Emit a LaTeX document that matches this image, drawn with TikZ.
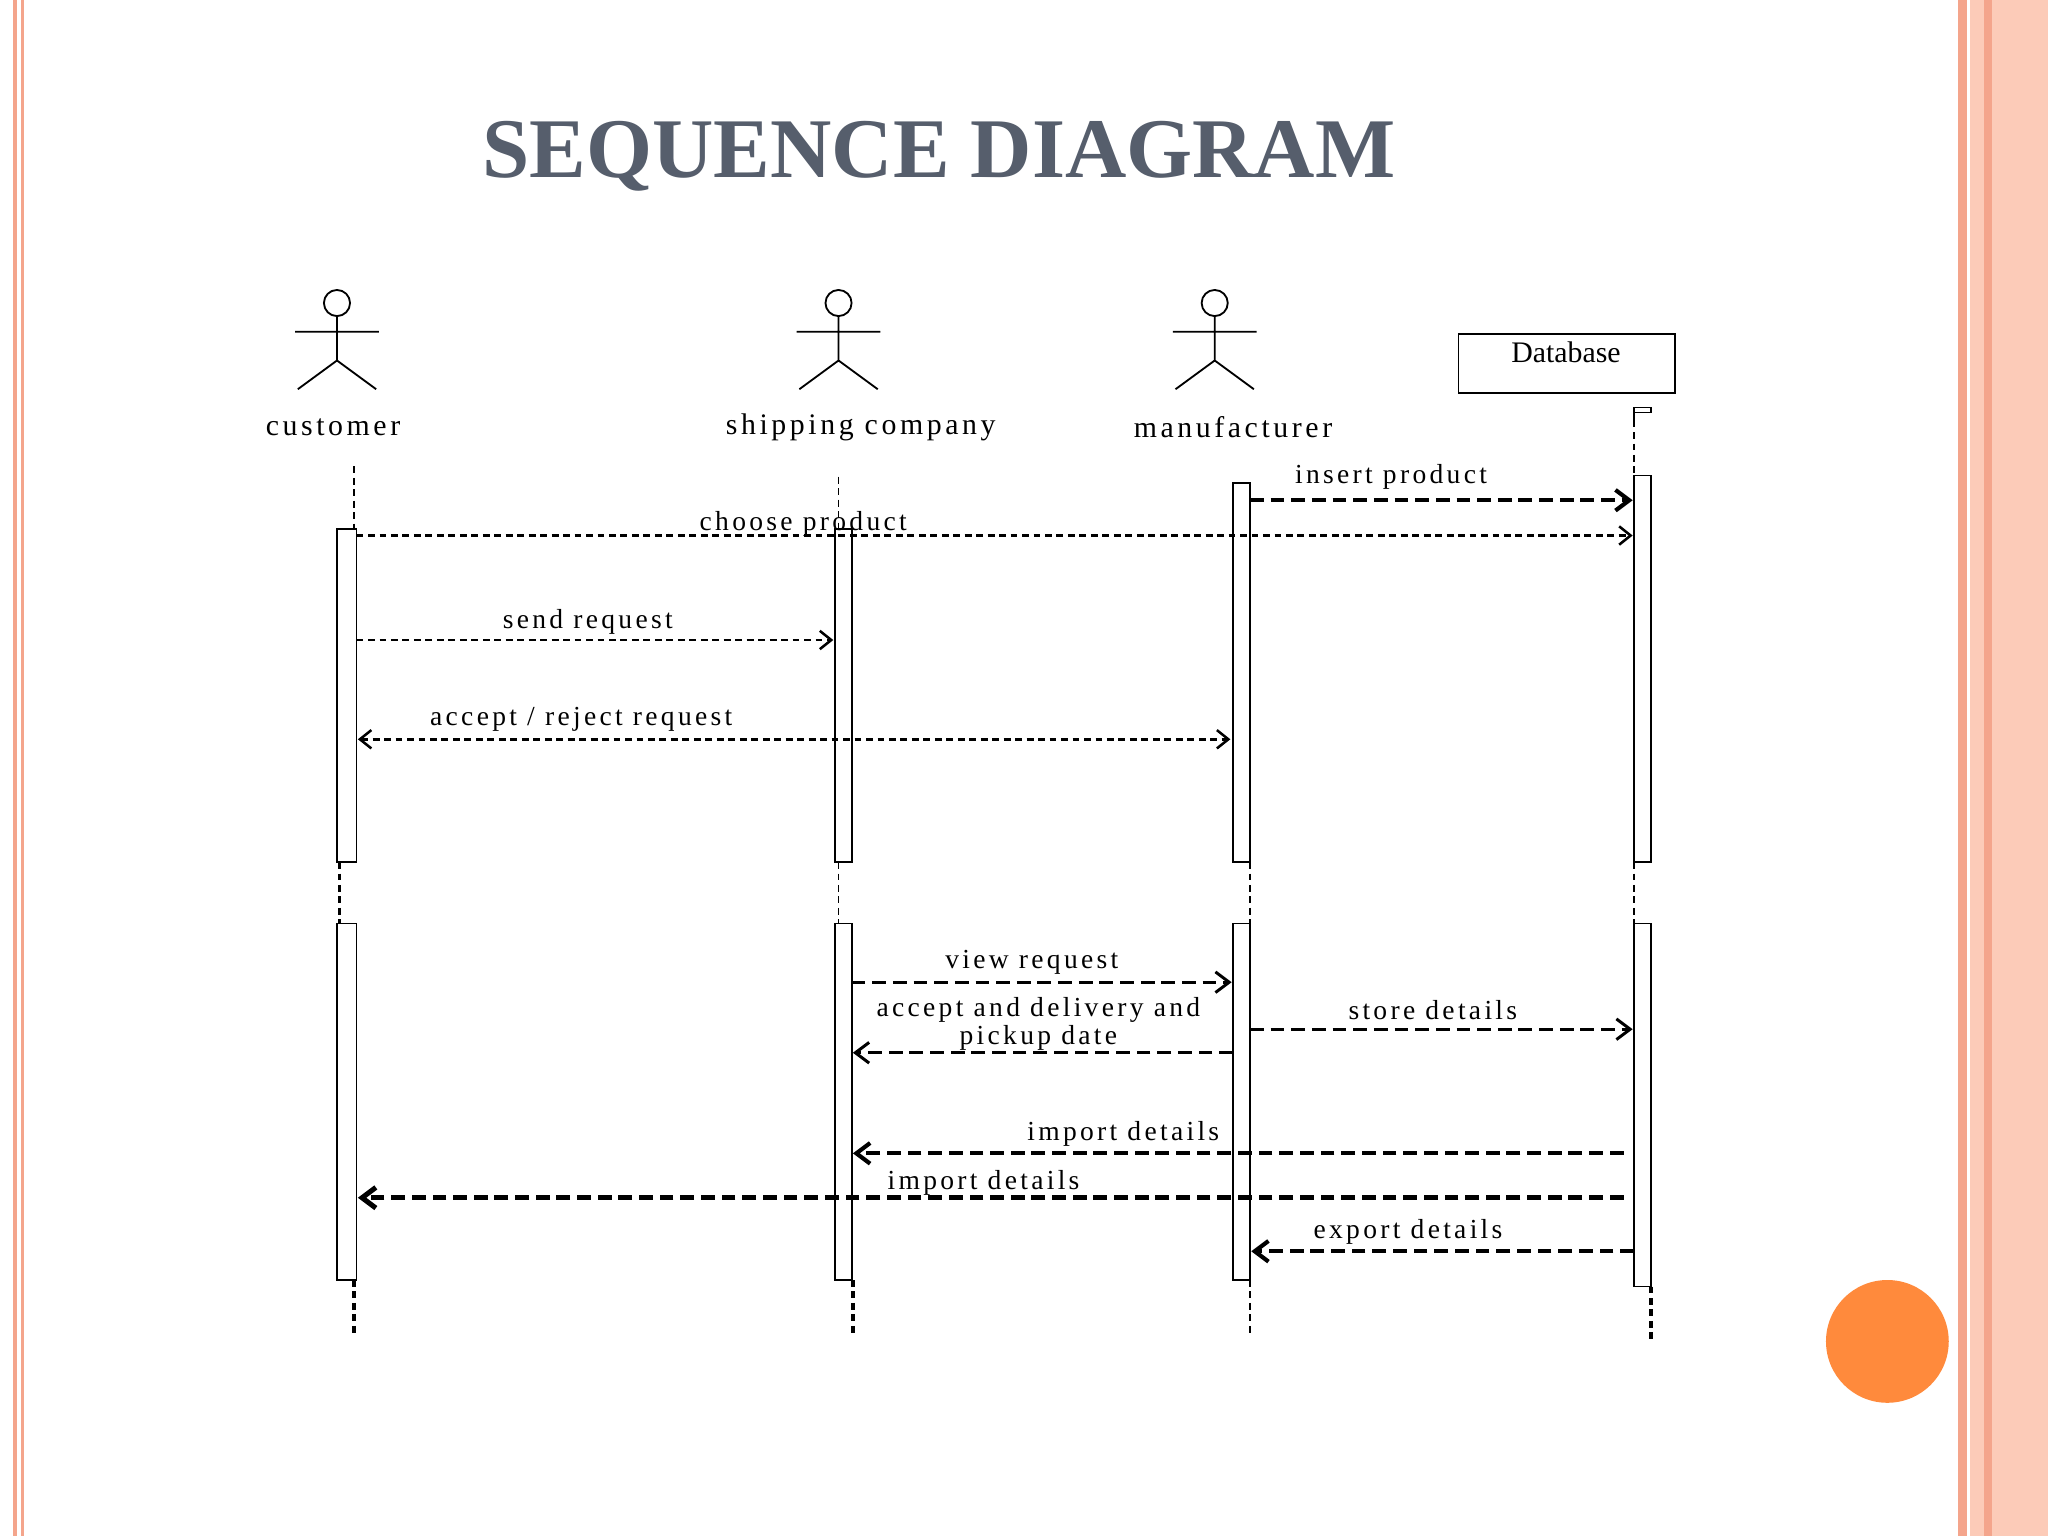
\documentclass[tikz,border=0pt]{standalone}
\usepackage{fontspec}
\setmainfont{Liberation Serif}
\newfontfamily\labfont[LetterSpace=12]{Liberation Serif}
\usetikzlibrary{arrows.meta}
\definecolor{salmon}{HTML}{F4A58C}
\definecolor{peach}{HTML}{FCCBB8}
\definecolor{titlec}{HTML}{565E6C}
\definecolor{dot}{HTML}{FF8A3C}
\tikzset{x=0.02cm,y=-0.02cm,
 bar/.style={draw,fill=white,line width=0.8pt},
 msg/.style={densely dashed,line width=1.1pt,-{Straight Barb[length=5pt,width=8pt]}},
 msgt/.style={dash pattern=on 6pt off 3pt,line width=1.8pt,-{Straight Barb[length=6pt,width=9pt]}},
 lab/.style={font=\labfont\fontsize{12}{12.5}\selectfont,inner sep=1pt},
 alab/.style={font=\labfont\fontsize{13}{14}\selectfont,inner sep=1pt},
 life/.style={densely dashed,line width=0.6pt},
 lifet/.style={densely dashed,line width=1.6pt}}
\begin{document}
\begin{tikzpicture}
\useasboundingbox (0,0) rectangle (1568,1176);
\fill[white] (0,0) rectangle (1568,1176);
% borders
\fill[salmon] (10,0) rectangle (13,1176);
\fill[salmon] (16,0) rectangle (18,1176);
\fill[salmon] (1499,0) rectangle (1506,1176);
\fill[peach] (1508,0) rectangle (1519,1176);
\fill[salmon] (1519,0) rectangle (1525,1176);
\fill[peach] (1525,0) rectangle (1568,1176);
\fill[dot] (1445,1027) circle (47);
\node[font=\bfseries\fontsize{37}{40}\selectfont,text=titlec] (title) at (719,120) {SEQUENCE DIAGRAM};
% actors
\foreach \n/\x in {a1/258,a2/642,a3/930}{
 \draw[line width=0.8pt] (\x,232) circle (10);
 \draw[line width=0.8pt] (\x,242)--(\x,276) (\x-32,254)--(\x+32,254) (\x-30,298)--(\x,276)--(\x+30,298);
}
\node[alab] (customer) at (255,327) {customer};
\node[alab] (shipping) at (659,327) {shipping company};
\node[alab] (manuf) at (944,327) {manufacturer};
\node[draw,line width=0.8pt,minimum width=3.32cm,minimum height=0.9cm,anchor=north west,inner sep=0pt] (db) at (1116,255) {};
\node[font=\fontsize{13}{14}\selectfont] (dbl) at (1199,270) {Database};
% lifelines
\draw[life] (271,357)--(271,405);
\draw[life] (642,365)--(642,405);
\draw[life] (1251,322)--(1251,364);
\draw[line width=0.6pt] (1251,322)--(1251,312)--(1264,312)--(1264,316)--(1251,316);
\draw[lifet] (260,660)--(260,707); \draw[life] (642,660)--(642,707);
\draw[life] (957,660)--(957,707); \draw[life] (1251,660)--(1251,707);
\draw[lifet] (271,980)--(271,1022); \draw[lifet] (653,980)--(653,1022);
\draw[life] (957,980)--(957,1022); \draw[lifet] (1264,985)--(1264,1028);
% bars
\draw[bar] (258,405) rectangle (273,660); \draw[bar] (258,707) rectangle (273,980);
\draw[bar] (639,405) rectangle (652,660); \draw[bar] (639,707) rectangle (652,980);
\draw[bar] (944,370) rectangle (957,660); \draw[bar] (944,707) rectangle (957,980);
\draw[bar] (1251,364) rectangle (1264,660); \draw[bar] (1251,707) rectangle (1264,985);
% messages
\coordinate (m1a) at (957,383); \coordinate (m1b) at (1250,383);
\draw[msgt] (m1a)--(m1b); \node[lab] (l1) at (1065,365) {insert product};
\coordinate (m2a) at (273,410); \coordinate (m2b) at (1250,410);
\draw[msg] (m2a)--(m2b); \node[lab] (l2) at (615,401) {choose product};
\coordinate (m3a) at (273,490); \coordinate (m3b) at (638,490);
\draw[msg] (m3a)--(m3b); \node[lab] (l3) at (450,476) {send request};
\coordinate (m4a) at (274,566); \coordinate (m4b) at (942,566);
\draw[msg,{Straight Barb[length=5pt,width=8pt]}-{Straight Barb[length=5pt,width=8pt]}] (m4a)--(m4b); \node[lab] (l4) at (445,551) {accept / reject request};
\coordinate (m5a) at (652,752); \coordinate (m5b) at (943,752);
\draw[msgt,line width=1.3pt] (m5a)--(m5b); \node[lab] (l5) at (790,737) {view request};
\coordinate (m6a) at (944,806); \coordinate (m6b) at (653,806);
\draw[msgt,line width=1.3pt] (m6a)--(m6b); \node[lab,align=center] (l6) at (795,784) {accept and delivery and\\pickup date};
\coordinate (m7a) at (957,788); \coordinate (m7b) at (1250,788);
\draw[msgt,line width=1.3pt] (m7a)--(m7b); \node[lab] (l7) at (1097,773) {store details};
\coordinate (m8a) at (1243,883); \coordinate (m8b) at (653,883);
\draw[msgt] (m8a)--(m8b); \node[lab] (l8) at (860,868) {import details};
\coordinate (m9a) at (1243,917); \coordinate (m9b) at (274,917);
\draw[msgt,line width=2.2pt] (m9a)--(m9b); \node[lab] (l9) at (753,906) {import details};
\coordinate (m10a) at (1251,958); \coordinate (m10b) at (958,958);
\draw[msgt] (m10a)--(m10b); \node[lab] (l10) at (1078,943) {export details};
\end{tikzpicture}
\end{document}
